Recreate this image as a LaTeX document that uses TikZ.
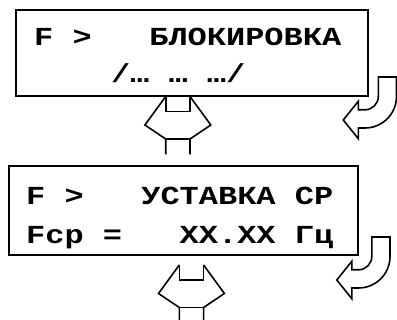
\documentclass[tikz,border=0pt]{standalone}
\usepackage{fontspec}
\newfontfamily\lcd[FakeStretch=1.23]{Liberation Mono}
\newcommand\lsp{\hphantom{X}}
\begin{document}
\begin{tikzpicture}[x=1pt,y=-1pt,
  panel/.style={draw,line width=2.2pt,inner sep=0,anchor=north west},
  lcdtxt/.style={inner sep=0,anchor=base west,font=\lcd\bfseries\fontsize{26}{30}\selectfont},
  outl/.style={draw,line width=1.6pt,line join=miter},
  dblarrow/.pic={
    \draw[outl] (0,0) -- (0,15) -- (24.3,15) -- (24.3,0);
    \draw[outl] (0,0) -- (-20.8,28.5) -- (0,42.5) -- (0,58);
    \draw[outl] (24.3,0) -- (45.1,28.5) -- (24.3,42.5) -- (24.3,58);
    \draw[outl] (0,42.5) -- (24.3,42.5);
  },
  uarrow/.pic={
    \draw[outl] (13.3,-19.5) -- (13.3,0) arc[start angle=0,end angle=90,radius=13.3]
      -- (-6.7,13.3) -- (-6.7,4.8) -- (-21.7,23.5) -- (-6.7,42.2) -- (-6.7,31.5)
      -- (0,31.5) arc[start angle=90,end angle=0,radius=31.5] -- (31.5,-19.5) -- cycle;
  }]
\fill[white] (0,0) rectangle (397,320);
\useasboundingbox (0,0) rectangle (397,320);

\node[panel,minimum width=352pt,minimum height=86pt] (box1) at (15,9) {};
\node[lcdtxt] (t11) at (34,45.5) {F\lsp>\lsp\lsp\lsp БЛОКИРОВКА};
\node[lcdtxt] (t12) at (110.8,83) {/…\lsp…\lsp…/};

\node[panel,minimum width=349pt,minimum height=89pt] (box2) at (8,165) {};
\node[lcdtxt] (t21) at (26,204.5) {F\lsp>\lsp\lsp\lsp УСТАВКА\lsp СР};
\node[lcdtxt] (t22) at (26,244) {Fср\lsp=\lsp\lsp\lsp XX.XX\lsp Гц};

\pic (da1) at (165.7,96.5) {dblarrow};
\pic (da2) at (179.3,265) {dblarrow};
\pic (ua1) at (365,96.5) {uarrow};
\pic (ua2) at (358.5,256.5) {uarrow};
\end{tikzpicture}
\end{document}
